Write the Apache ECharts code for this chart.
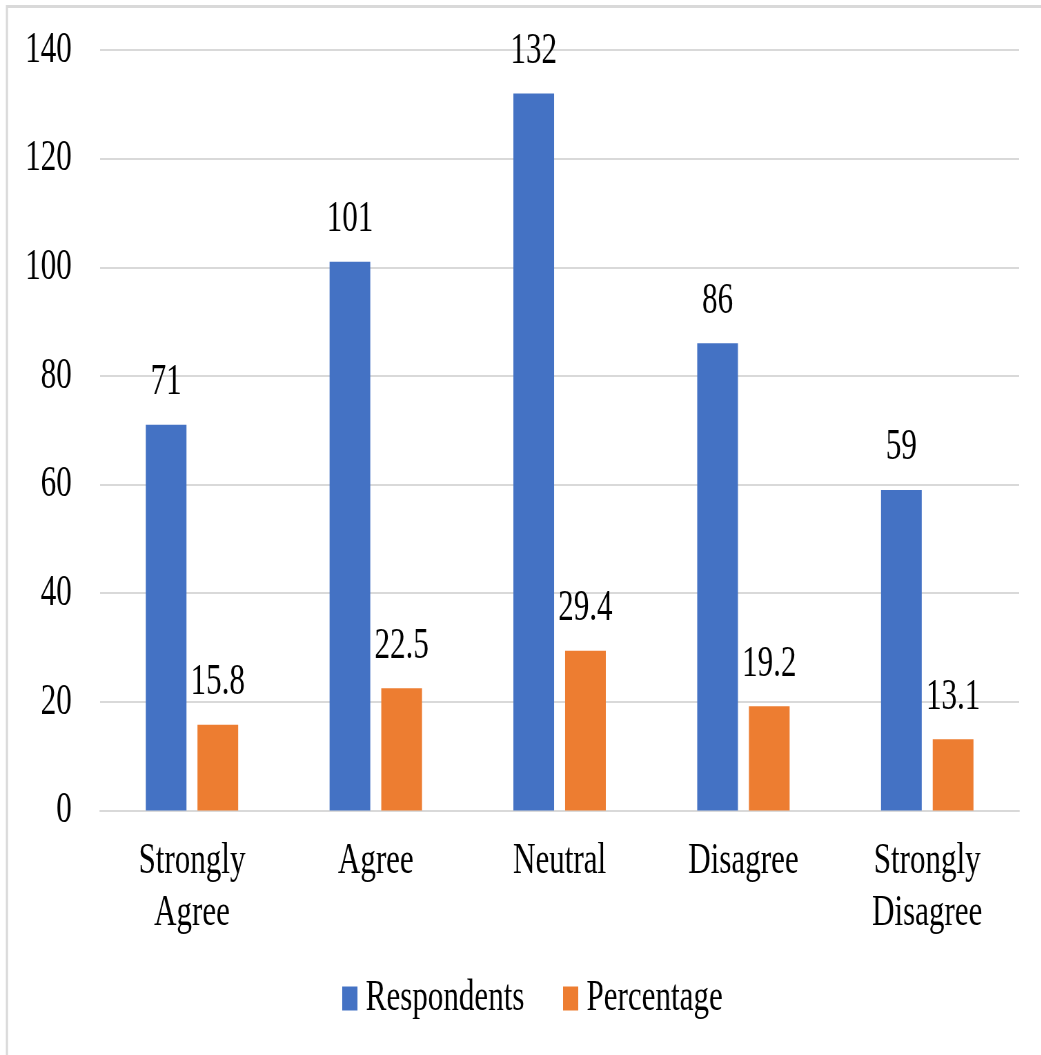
<!DOCTYPE html>
<html>
<head>
<meta charset="utf-8">
<script src="https://cdn.jsdelivr.net/npm/echarts@6/dist/echarts.min.js"></script>
<style>
  html, body { margin: 0; padding: 0; background: #fff; overflow: hidden; }
  /* Condensed rendering: the chart is laid out wide, then squeezed horizontally */
  #chart { width: 1509px; height: 1055px; transform: scaleX(0.69); transform-origin: 0 0; }
</style>
</head>
<body>
<div id="chart"></div>
<script>
const categories = ['Strongly\nAgree', 'Agree', 'Neutral', 'Disagree', 'Strongly\nDisagree'];
const respondents = [71, 101, 132, 86, 59];
const percentage = [15.8, 22.5, 29.4, 19.2, 13.1];
const yTicks = [0, 20, 40, 60, 80, 100, 120, 140];

const FONT = 'Liberation Serif';
const chart = echarts.init(document.getElementById('chart'), null, { renderer: 'canvas' });

const labelStyle = {
  show: true,
  position: 'top',
  distance: 20,
  color: '#000',
  fontFamily: FONT,
  fontSize: 45,
  lineHeight: 45
};

chart.setOption({
  animation: false,
  backgroundColor: '#fff',
  graphic: [{
    type: 'rect',
    shape: { x: 10, y: 6.5, width: 3000, height: 3000 },
    style: { fill: 'none', stroke: '#d9d9d9', lineWidth: 3 },
    silent: true
  }],
  grid: { left: 145, right: 32, top: 50, bottom: 244.5 },
  legend: {
    data: ['Respondents', 'Percentage'],
    left: 496,
    top: 976,
    padding: 0,
    itemWidth: 22,
    itemHeight: 24,
    itemGap: 56,
    icon: 'rect',
    textStyle: { color: '#000', fontFamily: FONT, fontSize: 45, padding: [0, 0, 0, 7] }
  },
  xAxis: {
    type: 'category',
    data: categories,
    axisLine: { lineStyle: { color: '#d9d9d9', width: 2 } },
    axisTick: { show: false },
    axisLabel: {
      color: '#000',
      fontFamily: FONT,
      fontSize: 45,
      lineHeight: 52,
      margin: 25,
      interval: 0
    }
  },
  yAxis: {
    type: 'value',
    min: yTicks[0],
    max: yTicks[yTicks.length - 1],
    interval: yTicks[1] - yTicks[0],
    axisLine: { show: false },
    axisTick: { show: false },
    splitLine: { lineStyle: { color: '#d9d9d9', width: 2 } },
    axisLabel: { color: '#000', fontFamily: FONT, fontSize: 45, margin: 41 }
  },
  series: [
    {
      name: 'Respondents',
      type: 'bar',
      data: respondents,
      barWidth: 59,
      barGap: '27%',
      itemStyle: { color: '#4472C4' },
      label: labelStyle
    },
    {
      name: 'Percentage',
      type: 'bar',
      data: percentage,
      barWidth: 59,
      itemStyle: { color: '#ED7D31' },
      label: labelStyle
    }
  ]
});
</script>
</body>
</html>
